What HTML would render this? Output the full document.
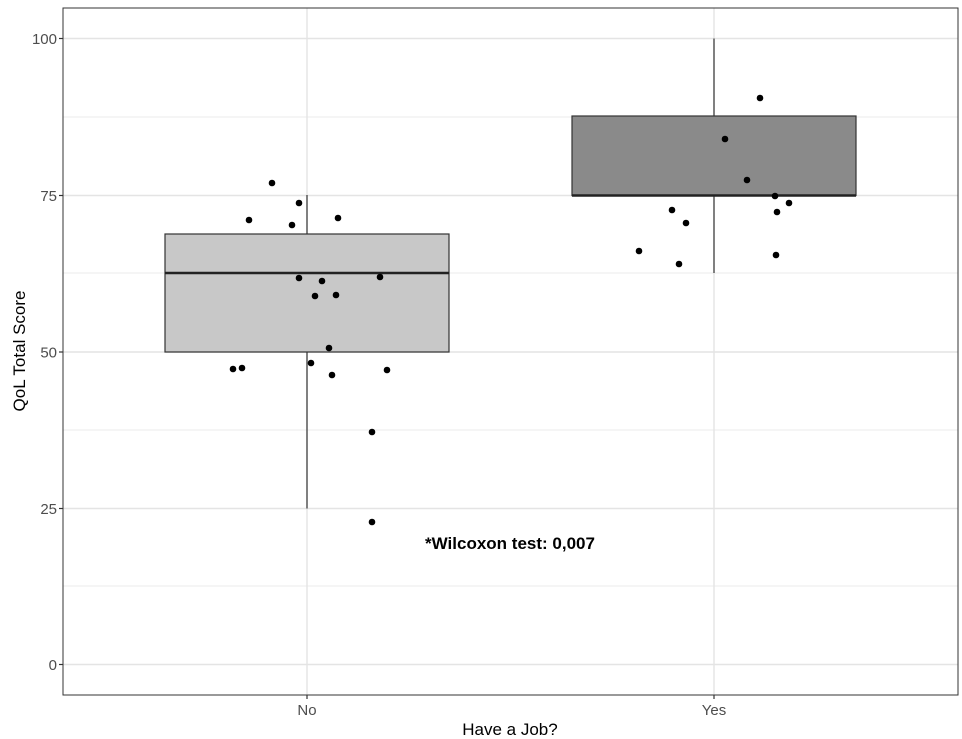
<!DOCTYPE html>
<html><head><style>body{margin:0;background:#fff}svg{display:block}</style></head><body>
<svg width="962" height="739" xmlns="http://www.w3.org/2000/svg" font-family="Liberation Sans, sans-serif">
<rect width="962" height="739" fill="#fff"/>
<g stroke="#ebebeb" stroke-width="1">
<line x1="63" x2="958" y1="117" y2="117"/><line x1="63" x2="958" y1="273" y2="273"/>
<line x1="63" x2="958" y1="430" y2="430"/><line x1="63" x2="958" y1="586" y2="586"/>
</g>
<g stroke="#e4e4e4" stroke-width="1.4">
<line x1="63" x2="958" y1="38.5" y2="38.5"/><line x1="63" x2="958" y1="195.5" y2="195.5"/>
<line x1="63" x2="958" y1="352" y2="352"/><line x1="63" x2="958" y1="508.5" y2="508.5"/>
<line x1="63" x2="958" y1="664.5" y2="664.5"/>
<line x1="307" x2="307" y1="8" y2="695"/><line x1="714" x2="714" y1="8" y2="695"/>
</g>
<g stroke="#333" stroke-width="1.2">
<line x1="307" x2="307" y1="195" y2="234"/><line x1="307" x2="307" y1="352" y2="508.5"/>
<rect x="165" y="234" width="284" height="118" fill="#c8c8c8"/>
<line x1="714" x2="714" y1="38.5" y2="116"/><line x1="714" x2="714" y1="195.5" y2="273"/>
<rect x="572" y="116" width="284" height="79.5" fill="#8a8a8a"/>
</g>
<line x1="165" x2="449" y1="273" y2="273" stroke="#222" stroke-width="2.5"/>
<line x1="572" x2="856" y1="195.5" y2="195.5" stroke="#222" stroke-width="2.5"/>
<g fill="#000">
<circle cx="272" cy="183" r="3.3"/><circle cx="299" cy="203" r="3.3"/><circle cx="249" cy="220" r="3.3"/><circle cx="292" cy="225" r="3.3"/><circle cx="338" cy="218" r="3.3"/>
<circle cx="299" cy="278" r="3.3"/><circle cx="322" cy="281" r="3.3"/><circle cx="315" cy="296" r="3.3"/><circle cx="336" cy="295" r="3.3"/><circle cx="380" cy="277" r="3.3"/>
<circle cx="329" cy="348" r="3.3"/><circle cx="311" cy="363" r="3.3"/><circle cx="233" cy="369" r="3.3"/><circle cx="242" cy="368" r="3.3"/><circle cx="332" cy="375" r="3.3"/><circle cx="387" cy="370" r="3.3"/>
<circle cx="372" cy="432" r="3.3"/><circle cx="372" cy="522" r="3.3"/>
<circle cx="760" cy="98" r="3.3"/><circle cx="725" cy="139" r="3.3"/><circle cx="747" cy="180" r="3.3"/><circle cx="775" cy="196" r="3.3"/><circle cx="789" cy="203" r="3.3"/><circle cx="777" cy="212" r="3.3"/>
<circle cx="672" cy="210" r="3.3"/><circle cx="686" cy="223" r="3.3"/><circle cx="639" cy="251" r="3.3"/><circle cx="679" cy="264" r="3.3"/><circle cx="776" cy="255" r="3.3"/>
</g>
<rect x="63" y="8" width="895" height="687" fill="none" stroke="#333" stroke-width="1"/>
<g stroke="#333" stroke-width="1.2">
<line x1="59" x2="63" y1="38.5" y2="38.5"/><line x1="59" x2="63" y1="195.5" y2="195.5"/><line x1="59" x2="63" y1="352" y2="352"/><line x1="59" x2="63" y1="508.5" y2="508.5"/><line x1="59" x2="63" y1="664.5" y2="664.5"/>
<line x1="307" x2="307" y1="695" y2="699"/><line x1="714" x2="714" y1="695" y2="699"/>
</g>
<g fill="#4d4d4d" font-size="15" text-anchor="end">
<text x="57" y="44">100</text><text x="57" y="201">75</text><text x="57" y="357.5">50</text><text x="57" y="514">25</text><text x="57" y="670">0</text>
</g>
<g fill="#4d4d4d" font-size="15" text-anchor="middle">
<text x="307" y="715">No</text><text x="714" y="715">Yes</text>
</g>
<text x="510" y="735" font-size="17" text-anchor="middle" fill="#000">Have a Job?</text>
<text transform="translate(25,351) rotate(-90)" font-size="17" text-anchor="middle" fill="#000">QoL Total Score</text>
<text x="510" y="549" font-size="17" font-weight="bold" text-anchor="middle" fill="#000">*Wilcoxon test: 0,007</text>
</svg>
</body></html>
